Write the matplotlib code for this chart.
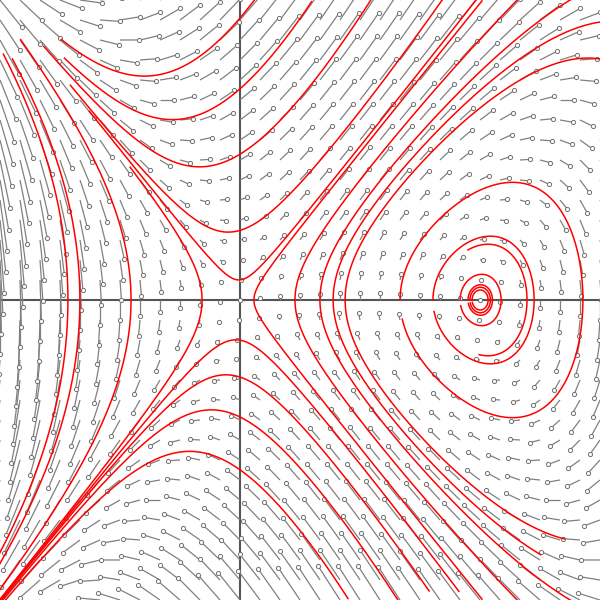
import numpy as np
import matplotlib
matplotlib.use("Agg")
import matplotlib.pyplot as plt
from matplotlib.collections import LineCollection

# Sistema: x' = y ,  y' = a*x + b*x^2 + c*y^2
coef_a = 1.0
coef_b = -1.0
coef_c = 1.0

# Ventana
x_lim = (-1.0, 1.5)
y_lim = (-1.0, 1.0)

# Campo de direcciones: rejilla y escala temporal de los segmentos
n_grid = 31
escala_t = 0.09

# Trayectorias (rojo): semilla, punto inicial (hacia atras) y punto final (hacia adelante)
semilla_x = [-0.717, -0.667, -0.454, -0.158,
             0.0, 0.0, 0.0, 0.0, 0.0,
             0.0, 0.0, 0.0, 0.0,
             0.058, 0.229, 0.333, 0.388, 0.438,
             0.667, 0.804, 0.950, 0.917, 0.950, 0.958, 0.967]
semilla_y = [0.0, 0.0, 0.0, 0.0,
             0.940, 0.704, 0.486, 0.232, 0.067,
             -0.134, -0.257, -0.390, -0.566,
             0.0, 0.0, 0.0, 0.0, 0.0,
             0.0, 0.0, 0.167, 0.0, 0.0, 0.0, 0.0]
inicio_x = [-0.988, -0.946, -0.913, -0.458,
            -0.738, -0.729, -0.813, -0.717, -0.625,
            0.908, 0.783, 0.667, 0.450,
            1.008, 1.158, 1.379, 1.263, 1.354,
            0.667, 0.804, 0.950, 0.917, 0.950, 0.958, 0.967]
inicio_y = [0.817, 0.807, 0.867, 0.443,
            0.877, 0.810, 0.850, 0.707, 0.633,
            -0.973, -0.973, -0.993, -0.993,
            -1.000, -1.000, -1.000, -0.827, -0.783,
            0.0, 0.0, 0.167, 0.0, 0.0, 0.0, 0.0]
fin_x = [-1.0, -1.0, -1.0, -1.0,
         0.075, 0.292, 0.546, 0.842, 0.979,
         -1.0, -1.0, -1.0, -1.0,
         1.008, 1.158, 1.379, 1.500, 1.500,
         0.667, 0.804, 1.013, 0.917, 0.950, 0.958, 0.967]
fin_y = [-0.843, -0.883, -0.967, -1.0,
         1.0, 1.0, 1.0, 1.0, 1.0,
         -1.0, -1.0, -1.0, -1.0,
         1.0, 1.0, 1.0, 0.927, 0.806,
         -0.067, -0.040, -0.100, -0.020, -0.012, -0.010, -0.008]


def campo(x, y):
    return y, coef_a * x + coef_b * x**2 + coef_c * y**2


def integrar(x0, y0, x1, y1, sentido, t_max=12.0, dt=0.003):
    p = np.array([x0, y0], dtype=float)
    pts = [p.copy()]
    f = lambda q: sentido * np.array(campo(q[0], q[1]))
    for _ in range(int(t_max / dt)):
        k1 = f(p)
        k2 = f(p + 0.5 * dt * k1)
        k3 = f(p + 0.5 * dt * k2)
        k4 = f(p + dt * k3)
        p = p + dt / 6.0 * (k1 + 2 * k2 + 2 * k3 + k4)
        pts.append(p.copy())
        if p[0] < x_lim[0] - 0.03 or p[0] > x_lim[1] + 0.03 or \
           p[1] < y_lim[0] - 0.03 or p[1] > y_lim[1] + 0.03:
            break
    pts = np.array(pts)
    # cortar donde pasa mas cerca del punto buscado (despues de alejarse de la semilla)
    if np.hypot(x1 - x0, y1 - y0) < 1e-9:
        return pts[:1]
    d0 = np.hypot(pts[:, 0] - x0, pts[:, 1] - y0)
    d = np.hypot(pts[:, 0] - x1, pts[:, 1] - y1)
    lejos = np.argmax(d0 > 0.08)
    j = lejos + np.argmin(d[lejos:])
    return pts[:j + 1]


def main():
    fig = plt.figure(figsize=(6, 6), dpi=100)
    ax = fig.add_axes([0, 0, 1, 1])
    ax.set_xlim(*x_lim)
    ax.set_ylim(*y_lim)
    ax.axis('off')

    # ejes
    ax.axhline(0, color='#555555', lw=1.5, zorder=1)
    ax.axvline(0, color='#555555', lw=1.5, zorder=1)

    # campo de direcciones
    gx, gy = np.meshgrid(np.linspace(*x_lim, n_grid), np.linspace(*y_lim, n_grid))
    u, v = campo(gx, gy)
    hx = gx + escala_t * u
    hy = gy + escala_t * v
    segs = np.stack([np.stack([gx.ravel(), gy.ravel()], 1),
                     np.stack([hx.ravel(), hy.ravel()], 1)], 1)
    ax.add_collection(LineCollection(segs, colors='#808080', linewidths=0.9, zorder=2))
    ax.plot(hx.ravel(), hy.ravel(), 'o', ms=3.0, mfc='white', mec='#707070',
            mew=0.7, zorder=3)

    # trayectorias
    for sx, sy, x0, y0, x1, y1 in zip(semilla_x, semilla_y, inicio_x, inicio_y, fin_x, fin_y):
        atras = integrar(sx, sy, x0, y0, -1.0)
        adelante = integrar(sx, sy, x1, y1, 1.0)
        tr = np.vstack([atras[::-1], adelante[1:]])
        ax.plot(tr[:, 0], tr[:, 1], color='red', lw=1.1, zorder=4)

    fig.savefig("out.png", dpi=100)


if __name__ == "__main__":
    main()
